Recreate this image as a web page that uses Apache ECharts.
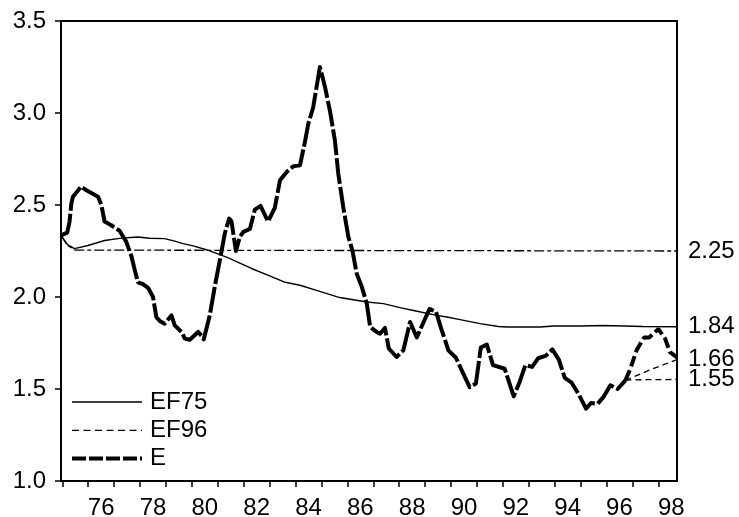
<!DOCTYPE html>
<html>
<head>
<meta charset="utf-8">
<script src="https://cdn.jsdelivr.net/npm/echarts@6.0.0/dist/echarts.min.js"></script>
<style>
  html, body { margin: 0; padding: 0; background: #fff; }
  #chart { width: 739px; height: 517px; }
</style>
</head>
<body>
<div id="chart"></div>
<script>
// E (actual)
var eYears = [1974.95, 1975.19, 1975.28, 1975.35, 1975.41, 1975.73, 1975.93, 1976.38, 1976.51, 1976.63,
  1976.89, 1977.21, 1977.47, 1977.67, 1977.79, 1977.92, 1978.11, 1978.31, 1978.5, 1978.63,
  1978.76, 1978.95, 1979.21, 1979.34, 1979.6, 1979.73, 1979.92, 1980.24, 1980.37, 1980.46,
  1980.69, 1980.88, 1981.08, 1981.27, 1981.44, 1981.53, 1981.7, 1981.85, 1981.98, 1982.24,
  1982.43, 1982.65, 1982.94, 1983.2, 1983.4, 1983.66, 1983.91, 1984.17, 1984.36, 1984.49,
  1984.68, 1984.94, 1985.14, 1985.33, 1985.52, 1985.65, 1985.84, 1986.04, 1986.2, 1986.36,
  1986.56, 1986.75, 1986.88, 1987.13, 1987.26, 1987.45, 1987.6, 1987.9, 1988.16, 1988.42,
  1988.68, 1988.93, 1989.17, 1989.42, 1989.64, 1989.9, 1990.19, 1990.45, 1990.72, 1990.96,
  1991.15, 1991.38, 1991.62, 1992.07, 1992.42, 1992.65, 1992.87, 1993.13, 1993.36, 1993.65,
  1993.91, 1994.16, 1994.39, 1994.65, 1994.93, 1995.21, 1995.4, 1995.66, 1995.9, 1996.15,
  1996.43, 1996.73, 1996.92, 1997.16, 1997.45, 1997.65, 1998.0, 1998.26, 1998.45, 1998.72]
var eValues = [2.335, 2.35, 2.41, 2.51, 2.545, 2.6, 2.58, 2.545, 2.5, 2.41,
  2.39, 2.36, 2.3, 2.22, 2.15, 2.08, 2.07, 2.05, 2.0, 1.89,
  1.87, 1.855, 1.9, 1.846, 1.81, 1.774, 1.768, 1.81, 1.79, 1.77,
  1.9, 2.054, 2.2, 2.345, 2.426, 2.41, 2.25, 2.326, 2.353, 2.37,
  2.475, 2.495, 2.41, 2.485, 2.634, 2.68, 2.71, 2.716, 2.84, 2.94,
  3.03, 3.25, 3.14, 3.01, 2.85, 2.67, 2.49, 2.326, 2.25, 2.127,
  2.054, 1.964, 1.837, 1.81, 1.8, 1.832, 1.72, 1.674, 1.71, 1.864,
  1.78, 1.86, 1.935, 1.92, 1.82, 1.71, 1.67, 1.59, 1.51, 1.53,
  1.725, 1.742, 1.63, 1.61, 1.46, 1.54, 1.63, 1.62, 1.667, 1.68,
  1.715, 1.66, 1.56, 1.535, 1.47, 1.393, 1.424, 1.42, 1.46, 1.52,
  1.5, 1.547, 1.61, 1.71, 1.78, 1.78, 1.826, 1.774, 1.7, 1.672]
var eSplitYear = 1996.73

// EF75 forecast
var ef75Years = [1974.95, 1975.2, 1975.47, 1975.99, 1976.63, 1977.28, 1977.92, 1978.37, 1978.95, 1979.34,
  1979.66, 1980.05, 1980.56, 1981.34, 1982.3, 1983.0, 1983.6, 1984.17, 1984.81, 1985.71,
  1986.75, 1987.39, 1988.03, 1988.6, 1989.45, 1989.84, 1990.35, 1991.12, 1991.83, 1992.16,
  1993.45, 1993.96, 1994.99, 1995.9, 1997.4, 1998.72]
var ef75Values = [2.335, 2.285, 2.263, 2.28, 2.307, 2.32, 2.326, 2.319, 2.317, 2.304,
  2.29, 2.278, 2.257, 2.217, 2.155, 2.115, 2.08, 2.064, 2.036, 1.997,
  1.973, 1.964, 1.942, 1.925, 1.9, 1.891, 1.877, 1.855, 1.84, 1.837,
  1.837, 1.842, 1.842, 1.845, 1.84, 1.838]

// flat forecast from 1975
var f75Years = [1974.95, 1975.2, 1975.5, 1998.72]
var f75Values = [2.335, 2.28, 2.255, 2.25]

// EF96 forecast
var ef96Years = [1996.73, 1997.7, 1998.72]
var ef96Values = [1.547, 1.605, 1.66]

// flat forecast from 1996
var f96Years = [1996.73, 1997.0, 1998.72]
var f96Values = [1.547, 1.55, 1.552]

var tickYears = [1975, 1976, 1977, 1978, 1979, 1980, 1981, 1982, 1983, 1984, 1985, 1986,
  1987, 1988, 1989, 1990, 1991, 1992, 1993, 1994, 1995, 1996, 1997, 1998]
var labelYears = [1976, 1978, 1980, 1982, 1984, 1986, 1988, 1990, 1992, 1994, 1996, 1998]
var legendNames = ['EF75', 'EF96', 'E']

var FONT = "'Liberation Sans', Arial, sans-serif"
var FONT_SIZE = 24

function pairs(xs, ys) {
  return xs.map(function (x, i) { return [x, ys[i]] })
}

function endLabel(vals) {
  var text = vals[vals.length - 1].toFixed(2)
  return {
    show: true,
    formatter: function () { return text },
    distance: 11,
    color: '#000',
    fontFamily: FONT,
    fontSize: FONT_SIZE
  }
}

var eAll = pairs(eYears, eValues)
var eFirst = eAll.filter(function (p) { return p[0] <= eSplitYear })
var eLast = eAll.filter(function (p) { return p[0] >= eSplitYear })

var chart = echarts.init(document.getElementById('chart'), null, { renderer: 'canvas' })

chart.setOption({
  animation: false,
  backgroundColor: '#fff',
  grid: {
    left: 61,
    right: 62,
    top: 21,
    bottom: 36,
    outerBoundsMode: 'none',
    show: true,
    borderColor: '#000',
    borderWidth: 2
  },
  xAxis: {
    type: 'value',
    min: 1974.95,
    max: 1998.72,
    splitLine: { show: false },
    axisLine: { show: true, lineStyle: { color: '#000', width: 2 } },
    axisTick: {
      show: true,
      length: 6,
      lineStyle: { color: '#000', width: 1.5 },
      customValues: tickYears
    },
    axisLabel: {
      color: '#000',
      fontFamily: FONT,
      fontSize: FONT_SIZE,
      margin: 15,
      customValues: labelYears.map(function (y) { return y + 0.5 }),
      formatter: function (v) { return String(Math.floor(v) % 100) }
    }
  },
  yAxis: {
    type: 'value',
    min: 1,
    max: 3.5,
    interval: 0.5,
    splitLine: { show: false },
    axisLine: { show: true, lineStyle: { color: '#000', width: 2 } },
    axisTick: { show: true, length: 6, lineStyle: { color: '#000', width: 1.5 } },
    axisLabel: {
      color: '#000',
      fontFamily: FONT,
      fontSize: FONT_SIZE,
      margin: 15,
      formatter: function (v) { return v.toFixed(1) }
    }
  },
  series: [
    {
      name: 'F75',
      type: 'line',
      symbol: 'none',
      data: pairs(f75Years, f75Values),
      lineStyle: { color: '#000', width: 1.3, type: [10, 3, 4, 3] },
      endLabel: endLabel(f75Values),
      z: 2
    },
    {
      name: 'EF75',
      type: 'line',
      symbol: 'none',
      data: pairs(ef75Years, ef75Values),
      lineStyle: { color: '#000', width: 1.4 },
      endLabel: endLabel(ef75Values),
      z: 3
    },
    {
      name: 'EF96',
      type: 'line',
      symbol: 'none',
      data: pairs(ef96Years, ef96Values),
      lineStyle: { color: '#000', width: 1.3, type: [6, 4] },
      endLabel: endLabel(ef96Values),
      z: 3
    },
    {
      name: 'F96',
      type: 'line',
      symbol: 'none',
      data: pairs(f96Years, f96Values),
      lineStyle: { color: '#000', width: 1.3, type: [6, 4] },
      endLabel: endLabel(f96Values),
      z: 3
    },
    {
      name: 'E',
      type: 'line',
      symbol: 'none',
      data: eFirst,
      lineStyle: { color: '#000', width: 4, type: [26, 3], join: 'round' },
      z: 4
    },
    {
      name: 'E ',
      type: 'line',
      symbol: 'none',
      data: eLast,
      lineStyle: { color: '#000', width: 4, type: [11, 4] },
      z: 4
    }
  ],
  // legend drawn by hand so the line samples match the plot
  graphic: legendNames.map(function (name, i) {
    var y = 402 + i * 28.3
    var styles = [
      { lineWidth: 1.4, lineDash: null },
      { lineWidth: 1.3, lineDash: [7, 4.5] },
      { lineWidth: 4, lineDash: [14, 3] }
    ]
    return {
      type: 'group',
      children: [
        {
          type: 'line',
          shape: { x1: 72, y1: y, x2: 142, y2: y },
          style: { stroke: '#000', lineWidth: styles[i].lineWidth, lineDash: styles[i].lineDash }
        },
        {
          type: 'text',
          x: 150,
          y: y,
          style: {
            text: name,
            fill: '#000',
            font: FONT_SIZE + 'px ' + FONT,
            verticalAlign: 'middle'
          }
        }
      ]
    }
  })
})
</script>
</body>
</html>
